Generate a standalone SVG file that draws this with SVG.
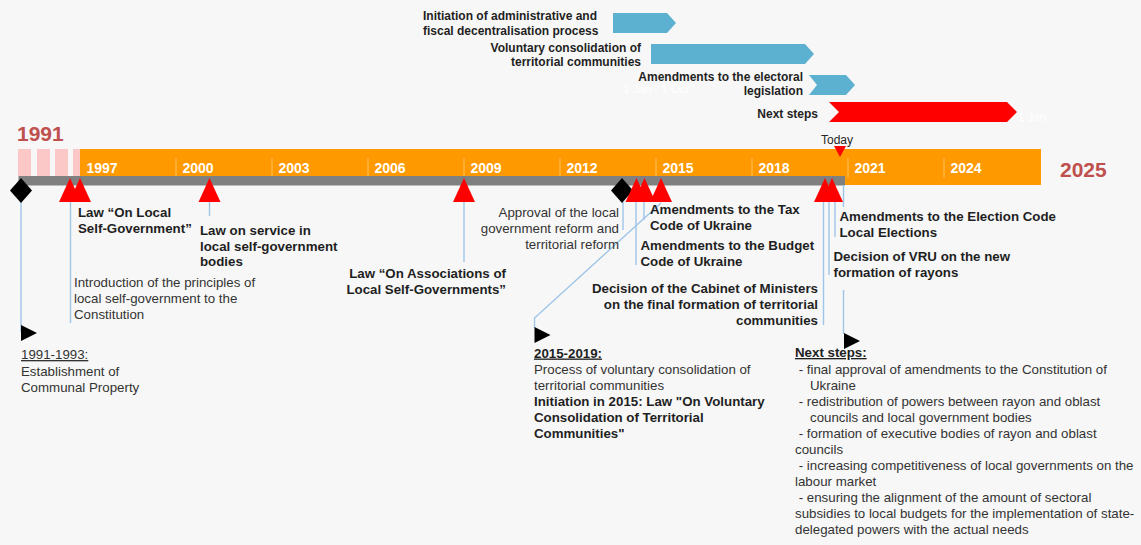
<svg xmlns="http://www.w3.org/2000/svg" width="1141" height="545" viewBox="0 0 1141 545">
<style>
text{font-family:"Liberation Sans",Arial,sans-serif;}
.b{font-weight:bold;fill:#1f1f1f;font-size:13.3px;}
.r{fill:#333333;font-size:13.3px;}
.g{font-weight:bold;fill:#1f1f1f;font-size:12px;}
.yr{font-weight:bold;fill:#ffffff;font-size:14px;}
.big{font-weight:bold;fill:#c0504d;font-size:21px;}
.tick{stroke:#ffbf5e;stroke-width:1;}
.ln{stroke:#9fc5e8;stroke-width:1.4;fill:none;}
.tri{fill:#ff0000;}
.dia{fill:#000000;}
.ghost{fill:#ffffff;font-size:11.5px;}
</style>
<defs>
<polygon id="up" points="0,0 11,24 -11,24" class="tri"/>
<polygon id="dm" points="0,0 11,12.5 0,25 -11,12.5" class="dia"/>
<polygon id="rt" points="0,0 16,8 0,16" class="dia"/>
</defs>
<rect x="0" y="0" width="1141" height="545" fill="#f7f7f7"/>

<g id="gantt">
<g id="g-admin">
<text class="g" x="423" y="19.5">Initiation of administrative and</text>
<text class="g" x="423" y="34.5">fiscal decentralisation process</text>
<polygon points="613,13 667,13 676,23 667,33 613,33" fill="#5bb1cf"/>
</g>
<g id="g-vol">
<text class="g" x="641" y="51.5" text-anchor="end">Voluntary consolidation of</text>
<text class="g" x="641" y="66" text-anchor="end">territorial communities</text>
<polygon points="651,44 805,44 814,54 805,64 651,64" fill="#5bb1cf"/>
</g>
<g id="g-elect">
<text class="ghost" x="623" y="93">1 Jan - 1 Oct</text>
<text class="g" x="803" y="80.5" text-anchor="end">Amendments to the electoral</text>
<text class="g" x="803" y="95" text-anchor="end">legislation</text>
<polygon points="809,75 846,75 855,85 846,95 809,95 817,85" fill="#5bb1cf"/>
</g>
<g id="g-next">
<text class="g" x="818" y="118" text-anchor="end">Next steps</text>
<text class="ghost" x="1018" y="121">1 Jan</text>
<polygon points="829,102 1007,102 1017,112 1007,122 829,122 839,112" fill="#ff0000"/>
</g>
</g>

<g id="timeline">
<text class="big" x="17" y="141">1991</text>
<rect x="18" y="149" width="13" height="27" fill="#fcc7c7"/>
<rect x="37" y="149" width="13" height="27" fill="#fcc7c7"/>
<rect x="55" y="149" width="13" height="27" fill="#fcc7c7"/>
<rect x="73" y="149" width="7" height="27" fill="#fcc7c7"/>
<rect x="80" y="149" width="961" height="36" fill="#ff9900"/>
<line class="tick" x1="176" y1="158" x2="176" y2="178"/>
<line class="tick" x1="272" y1="158" x2="272" y2="178"/>
<line class="tick" x1="368" y1="158" x2="368" y2="178"/>
<line class="tick" x1="464" y1="158" x2="464" y2="178"/>
<line class="tick" x1="560" y1="158" x2="560" y2="178"/>
<line class="tick" x1="656" y1="158" x2="656" y2="178"/>
<line class="tick" x1="752" y1="158" x2="752" y2="178"/>
<line class="tick" x1="848" y1="158" x2="848" y2="178"/>
<line class="tick" x1="944" y1="158" x2="944" y2="178"/>
<text class="yr" x="86.5" y="173">1997</text>
<text class="yr" x="182.5" y="173">2000</text>
<text class="yr" x="278.5" y="173">2003</text>
<text class="yr" x="374.5" y="173">2006</text>
<text class="yr" x="470.5" y="173">2009</text>
<text class="yr" x="566.5" y="173">2012</text>
<text class="yr" x="662.5" y="173">2015</text>
<text class="yr" x="758.5" y="173">2018</text>
<text class="yr" x="854.5" y="173">2021</text>
<text class="yr" x="950.5" y="173">2024</text>
<rect x="18.5" y="176" width="826.5" height="9.5" fill="#808080"/>
<text class="big" x="1060" y="177">2025</text>
<g id="today">
<text x="821" y="144" font-size="12" fill="#262626">Today</text>
<polygon points="834,146 846,146 840,157" fill="#ff0000"/>
</g>
</g>

<g id="connectors">
<line class="ln" x1="21" y1="201" x2="21" y2="332"/>
<line class="ln" x1="70.5" y1="202" x2="70.5" y2="323"/>
<line class="ln" x1="209.5" y1="202" x2="209.5" y2="216"/>
<line class="ln" x1="464" y1="202" x2="464" y2="262"/>
<line class="ln" x1="623" y1="202" x2="623" y2="230"/>
<line class="ln" x1="636" y1="202" x2="636" y2="265"/>
<line class="ln" x1="644" y1="202" x2="644" y2="220"/>
<polyline class="ln" points="661,203 534.5,318 534.5,328"/>
<line class="ln" x1="823.5" y1="202" x2="823.5" y2="325"/>
<line class="ln" x1="829" y1="202" x2="829" y2="275"/>
<line class="ln" x1="835" y1="202" x2="835" y2="237"/>
<line class="ln" x1="843.5" y1="185" x2="843.5" y2="207"/>
<line class="ln" x1="843.5" y1="290" x2="843.5" y2="334"/>
</g>

<g id="markers">
<use href="#dm" x="21" y="178"/>
<use href="#up" x="70" y="178"/>
<use href="#up" x="80" y="178"/>
<use href="#up" x="209.5" y="178"/>
<use href="#up" x="464" y="178"/>
<use href="#dm" x="622" y="178"/>
<use href="#up" x="636.5" y="178"/>
<use href="#up" x="644.5" y="178"/>
<use href="#up" x="661" y="178"/>
<use href="#up" x="825" y="178"/>
<use href="#up" x="832" y="178"/>
<use href="#rt" x="21" y="325"/>
<use href="#rt" x="534.5" y="327"/>
<use href="#rt" x="844" y="333"/>
</g>

<g id="n-1991">
<text class="r" x="21" y="359" text-decoration="underline">1991-1993:</text>
<text class="r" x="21" y="375.5">Establishment of</text>
<text class="r" x="21" y="391.5">Communal Property</text>
</g>
<g id="n-law-local">
<text class="b" x="78" y="216.5">Law “On Local</text>
<text class="b" x="78" y="232.5">Self-Government”</text>
</g>
<g id="n-constitution">
<text class="r" x="74" y="287">Introduction of the principles of</text>
<text class="r" x="74" y="303">local self-government to the</text>
<text class="r" x="74" y="319">Constitution</text>
</g>
<g id="n-service">
<text class="b" x="200" y="234.5">Law on service in</text>
<text class="b" x="200" y="250.5">local self-government</text>
<text class="b" x="200" y="266">bodies</text>
</g>
<g id="n-assoc">
<text class="b" x="506" y="278" text-anchor="end">Law “On Associations of</text>
<text class="b" x="506" y="294" text-anchor="end">Local Self-Governments”</text>
</g>
<g id="n-approval">
<text class="r" x="619" y="217" text-anchor="end">Approval of the local</text>
<text class="r" x="619" y="233" text-anchor="end">government reform and</text>
<text class="r" x="619" y="249" text-anchor="end">territorial reform</text>
</g>
<g id="n-tax">
<text class="b" x="650" y="214">Amendments to the Tax</text>
<text class="b" x="650" y="229.5">Code of Ukraine</text>
</g>
<g id="n-budget">
<text class="b" x="640.5" y="250">Amendments to the Budget</text>
<text class="b" x="640.5" y="266">Code of Ukraine</text>
</g>
<g id="n-cabinet">
<text class="b" x="818" y="293" text-anchor="end">Decision of the Cabinet of Ministers</text>
<text class="b" x="818" y="309" text-anchor="end">on the final formation of territorial</text>
<text class="b" x="818" y="325" text-anchor="end">communities</text>
</g>
<g id="n-election">
<text class="b" x="839.5" y="220.5">Amendments to the Election Code</text>
<text class="b" x="839.5" y="236.5">Local Elections</text>
</g>
<g id="n-vru">
<text class="b" x="833.5" y="260.5">Decision of VRU on the new</text>
<text class="b" x="833.5" y="276.5">formation of rayons</text>
</g>
<g id="n-2015">
<text class="b" x="534" y="357.5" text-decoration="underline">2015-2019:</text>
<text class="r" x="534" y="373.5">Process of voluntary consolidation of</text>
<text class="r" x="534" y="389.5">territorial communities</text>
<text class="b" x="534" y="405.5">Initiation in 2015: Law "On Voluntary</text>
<text class="b" x="534" y="421.5">Consolidation of Territorial</text>
<text class="b" x="534" y="437.5">Communities"</text>
</g>
<g id="n-nextsteps">
<text class="b" x="795" y="357" text-decoration="underline">Next steps:</text>
<text class="r" x="795" y="373.5" xml:space="preserve"> - final approval of amendments to the Constitution of</text>
<text class="r" x="810" y="389.5">Ukraine</text>
<text class="r" x="795" y="405.5" xml:space="preserve"> - redistribution of powers between rayon and oblast</text>
<text class="r" x="810" y="421.5">councils and local government bodies</text>
<text class="r" x="795" y="438" xml:space="preserve"> - formation of executive bodies of rayon and oblast</text>
<text class="r" x="795" y="454">councils</text>
<text class="r" x="795" y="470" xml:space="preserve"> - increasing competitiveness of local governments on the</text>
<text class="r" x="795" y="486">labour market</text>
<text class="r" x="795" y="502" xml:space="preserve"> - ensuring the alignment of the amount of sectoral</text>
<text class="r" x="795" y="518">subsidies to local budgets for the implementation of state-</text>
<text class="r" x="795" y="534">delegated powers with the actual needs</text>
</g>
</svg>
